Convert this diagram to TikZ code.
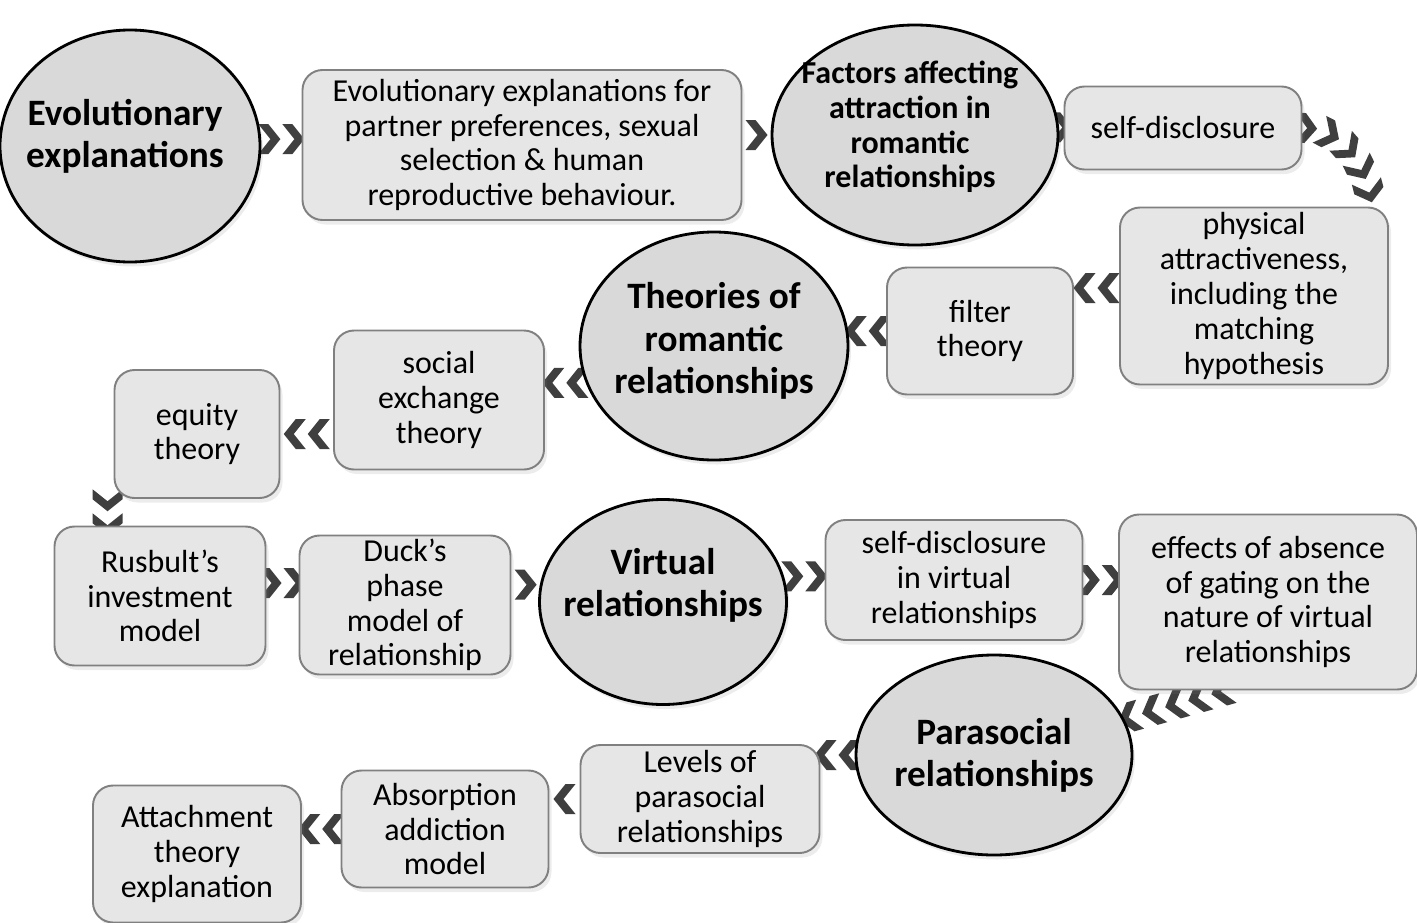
\documentclass[tikz,border=0pt]{standalone}
\usepackage{fontspec}
\setmainfont{Carlito}
\usetikzlibrary{shapes.geometric,shadows,decorations.markings,calc,positioning}

\definecolor{hubfill}{HTML}{D9D9D9}
\definecolor{boxfill}{HTML}{E6E6E6}
\definecolor{boxline}{HTML}{808080}
\definecolor{chevgray}{HTML}{3F3F3F}

\pgfdeclarelayer{background}
\pgfsetlayers{background,main}

\tikzset{
  pics/chev/.style={code={\fill[chevgray] (-11,-15) -- (-1,-15) -- (11,0) -- (-1,15) -- (-11,15) -- (1,0) -- cycle;}},
  chevs/.style={decoration={markings, mark=at position 0.5 with {
      \foreach \k in {1,...,#1} {\pic[transform shape] at ({(\k-(#1+1)/2)*24},0) {chev};}}}, decorate},
  chevtrail/.style={decoration={markings, mark=between positions 0.03 and 1 step 0.48cm with {\pic[transform shape] {chev};}}, decorate},
  dims/.style 2 args={minimum width=#1*0.02cm, minimum height=#2*0.02cm},
  hub/.style={ellipse, draw=black, line width=1.6pt, fill=hubfill, inner sep=0pt,
    drop shadow={opacity=0.15, shadow xshift=0.06cm, shadow yshift=-0.09cm}},
  hubtext/.style={align=center, font=\fontsize{21.2}{24}\selectfont\bfseries, inner sep=0pt},
  smallhubtext/.style={align=center, font=\fontsize{18.2}{19.8}\selectfont\bfseries, inner sep=0pt},
  topic/.style={rectangle, rounded corners=0.4cm, draw=boxline, line width=1.1pt, fill=boxfill,
    align=center, inner sep=0pt, font=\fontsize{18.2}{19.8}\selectfont,
    drop shadow={opacity=0.15, shadow xshift=0.06cm, shadow yshift=-0.09cm}},
}

\begin{document}
\begin{tikzpicture}[x=0.02cm, y=-0.02cm]
  \useasboundingbox (0,0) rectangle (1417,923);

  % main themes
  \node[hub, dims={260}{232}, label={[hubtext, xshift=-0.1cm, yshift=0.2cm]center:Evolutionary\\explanations}] (evol) at (130,146) {};
  \node[hub, dims={286}{220}, label={[smallhubtext, xshift=-0.1cm, yshift=0.16cm]center:Factors affecting\\attraction in\\romantic\\relationships}] (factors) at (915,135) {};
  \node[hub, dims={268}{228}, label={[hubtext, yshift=0.1cm]center:Theories of\\romantic\\relationships}] (theories) at (714,346) {};
  \node[hub, dims={247}{205}, label={[hubtext, yshift=0.34cm]center:Virtual\\relationships}] (virtual) at (663,602) {};
  \node[hub, dims={276}{200}, label={[hubtext]center:Parasocial\\relationships}] (parasocial) at (994,755) {};

  % topics
  \node[topic, dims={439}{150}] (evolbox) at (522,145) {Evolutionary explanations for\\partner preferences, sexual\\selection \& human\\reproductive behaviour.};
  \node[topic, dims={237}{83}] (selfdis) at (1183,128) {self-disclosure};
  \node[topic, dims={268}{177}] (physical) at (1254,296) {physical\\attractiveness,\\including the\\matching\\hypothesis};
  \node[topic, dims={186}{127}] (filter) at (980,331) {filter\\theory};
  \node[topic, dims={210}{139}] (social) at (439,400) {social\\exchange\\theory};
  \node[topic, dims={165}{128}] (equity) at (197,434) {equity\\theory};
  \node[topic, dims={211}{139}] (rusbult) at (160,596) {Rusbult’s\\investment\\model};
  \node[topic, dims={211}{139}] (duck) at (405,605) {Duck’s\\phase\\model of\\relationship};
  \node[topic, dims={257}{120}] (sdvirtual) at (954,580) {self-disclosure\\in virtual\\relationships};
  \node[topic, dims={298}{175}] (effects) at (1268,602) {effects of absence\\of gating on the\\nature of virtual\\relationships};
  \node[topic, dims={239}{108}] (levels) at (700,799) {Levels of\\parasocial\\relationships};
  \node[topic, dims={207}{117}] (absorption) at (445,829) {Absorption\\addiction\\model};
  \node[topic, dims={208}{137}] (attachment) at (197,854) {Attachment\\theory\\explanation};

  % chevron connectors behind the shapes
  \begin{pgfonlayer}{background}
    \path[chevs=2] (evol.3) -- (evol.3 -| evolbox.west);
    \path[chevs=1] (evolbox.east |- factors.west) -- (factors.west);
    \path[chevs=1] (factors.3) -- (factors.3 -| selfdis.west);
    \path[chevtrail] (selfdis.east) to[out=0, in=95] ($(physical.north east)+(-16,8)$);
    \path[chevs=2] ($(physical.west)+(0,-8)$) -- ($(physical.west -| filter.east)+(0,-8)$);
    \path[chevs=2] (filter.west) -- (filter.west -| theories.east);
    \path[chevs=2] (theories.196) -- (theories.196 -| social.east);
    \path[chevs=2] (social.west |- equity.east) -- (equity.east);
    \path[chevs=2] ($(equity.south west)+(-6,0)$) -- ($(equity.south west |- rusbult.north)+(-6,0)$);
    \path[chevs=2] ($(rusbult.east)+(0,-13)$) -- ($(rusbult.east -| duck.west)+(0,-13)$);
    \path[chevs=1] (duck.east |- virtual.172) -- (virtual.172);
    \path[chevs=2] (virtual.12) -- (virtual.12 -| sdvirtual.west);
    \path[chevs=2] (sdvirtual.east) -- (sdvirtual.east -| effects.west);
    \path[chevtrail] ($(effects.south)+(-43,0)$) -- (parasocial);
    \path[chevs=2] (parasocial.west) -- (parasocial.west -| levels.east);
    \path[chevs=1] (levels.west) -- (levels.west -| absorption.east);
    \path[chevs=2] (absorption.west) -- (absorption.west -| attachment.east);
  \end{pgfonlayer}
\end{tikzpicture}
\end{document}
